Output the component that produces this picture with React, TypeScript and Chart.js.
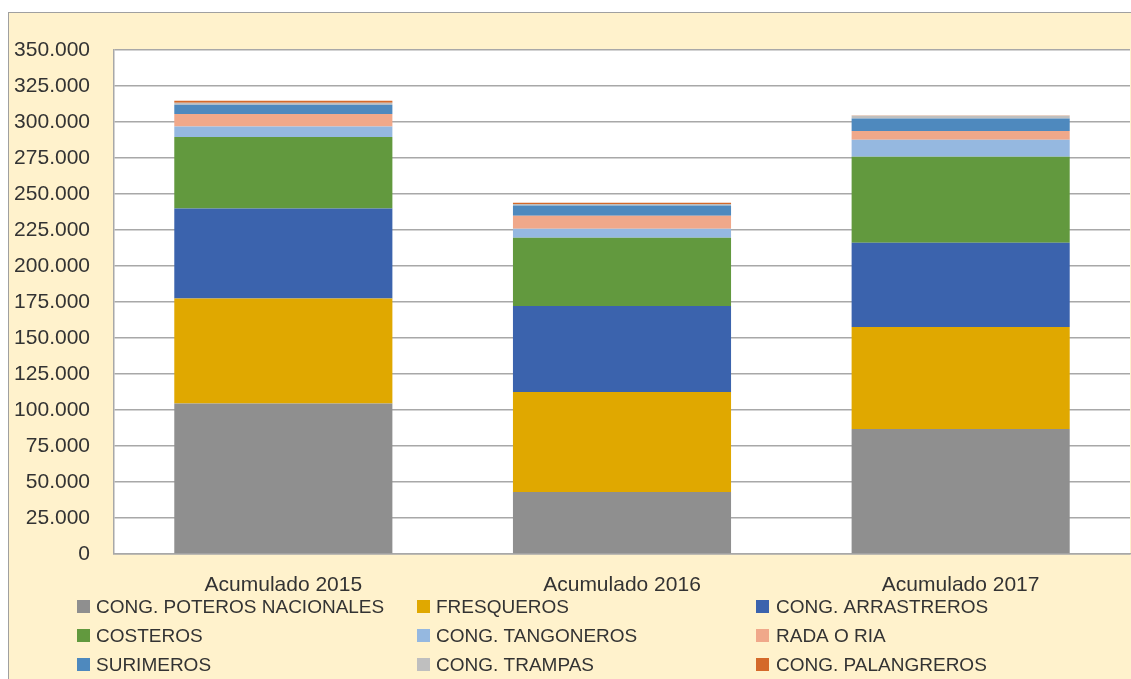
import React, { useEffect, useRef } from "react";
import { Chart, registerables } from "chart.js";

Chart.register(...registerables);

const categories = ["Acumulado 2015", "Acumulado 2016", "Acumulado 2017"];

const seriesNames = [
  "CONG. POTEROS NACIONALES",
  "FRESQUEROS",
  "CONG. ARRASTREROS",
  "COSTEROS",
  "CONG. TANGONEROS",
  "RADA O RIA",
  "SURIMEROS",
  "CONG. TRAMPAS",
  "CONG. PALANGREROS",
];

const poteros = [104500, 43100, 86800];
const fresqueros = [72900, 69400, 70800];
const arrastreros = [62500, 59700, 58600];
const costeros = [49600, 47500, 59700];
const tangoneros = [7300, 6200, 11800];
const radaORia = [8800, 9000, 6000];
const surimeros = [6300, 7200, 8800];
const trampas = [1400, 1000, 1800];
const palangreros = [1400, 900, 300];

const seriesValues = [
  poteros,
  fresqueros,
  arrastreros,
  costeros,
  tangoneros,
  radaORia,
  surimeros,
  trampas,
  palangreros,
];

const seriesColors = [
  "#8F8F8F",
  "#E0A800",
  "#3B63AD",
  "#62993E",
  "#95B8E0",
  "#F0A88A",
  "#4E89BE",
  "#BFBFBF",
  "#D4692A",
];

const yMax = 350000;
const yStep = 25000;

const FONT = "'Liberation Sans', Arial, sans-serif";
const TEXT = "#333333";

function fmt(v: number): string {
  if (v === 0) return "0";
  const s = Math.round(v).toString();
  return s.replace(/\B(?=(\d{3})+(?!\d))/g, ".");
}

const plotBg = {
  id: "plotBg",
  beforeDraw(chart: any) {
    const { ctx, chartArea } = chart;
    ctx.save();
    ctx.fillStyle = "#FFFFFF";
    ctx.fillRect(chartArea.left, chartArea.top, chartArea.right - chartArea.left, chartArea.bottom - chartArea.top);
    ctx.restore();
  },
};

const gridLegend = {
  id: "gridLegend",
  afterDraw(chart: any) {
    const { ctx } = chart;
    const markerX = [68, 408, 747];
    const textX = [87, 427, 767];
    const rowTop = [587, 616, 645];
    const box = 13;
    ctx.save();
    ctx.font = `19px ${FONT}`;
    ctx.textBaseline = "middle";
    ctx.textAlign = "left";
    chart.data.datasets.forEach((ds: any, i: number) => {
      const col = i % 3;
      const row = Math.floor(i / 3);
      ctx.fillStyle = ds.backgroundColor;
      ctx.fillRect(markerX[col], rowTop[row], box, box);
      ctx.fillStyle = TEXT;
      ctx.fillText(ds.label, textX[col], rowTop[row] + box / 2 + 1);
    });
    ctx.restore();
  },
};

export default function App() {
  const ref = useRef<HTMLCanvasElement | null>(null);

  useEffect(() => {
    if (!ref.current) return;
    const chart = new Chart(ref.current, {
      type: "bar",
      data: {
        labels: categories,
        datasets: seriesNames.map((name, i) => ({
          label: name,
          data: seriesValues[i],
          backgroundColor: seriesColors[i],
          borderWidth: 0,
          categoryPercentage: 1,
          barPercentage: 0.644,
        })),
      },
      options: {
        animation: false,
        responsive: false,
        maintainAspectRatio: false,
        layout: { padding: { top: 37, left: 0, right: 1, bottom: 0 } },
        plugins: {
          legend: { display: false },
          tooltip: { enabled: false },
          title: { display: false },
        },
        scales: {
          x: {
            stacked: true,
            grid: { display: false, drawTicks: false },
            border: { display: true, color: "#A8A8A8", width: 1.5 },
            ticks: {
              color: TEXT,
              font: { family: FONT, size: 21 },
              padding: 19,
              maxRotation: 0,
            },
            afterFit(scale: any) {
              scale.height = 125;
            },
          },
          y: {
            stacked: true,
            min: 0,
            max: yMax,
            grid: { color: "#A8A8A8", lineWidth: 1.5, drawTicks: false },
            border: { display: true, color: "#A8A8A8", width: 1.5 },
            ticks: {
              stepSize: yStep,
              color: TEXT,
              font: { family: FONT, size: 21 },
              padding: 24,
              callback: (v: any) => fmt(Number(v)),
            },
            afterFit(scale: any) {
              scale.width = 105;
            },
          },
        },
      },
      plugins: [plotBg, gridLegend],
    });
    return () => chart.destroy();
  }, []);

  return (
    <div
      style={{
        position: "absolute",
        left: 8,
        top: 12,
        width: 1123,
        height: 667,
        background: "#FFF2CC",
        borderLeft: "1px solid #A0A0A0",
        borderTop: "1px solid #A0A0A0",
        boxSizing: "border-box",
        overflow: "hidden",
      }}
    >
      <canvas ref={ref} width={1122} height={666} style={{ display: "block", width: 1122, height: 666 }} />
    </div>
  );
}
